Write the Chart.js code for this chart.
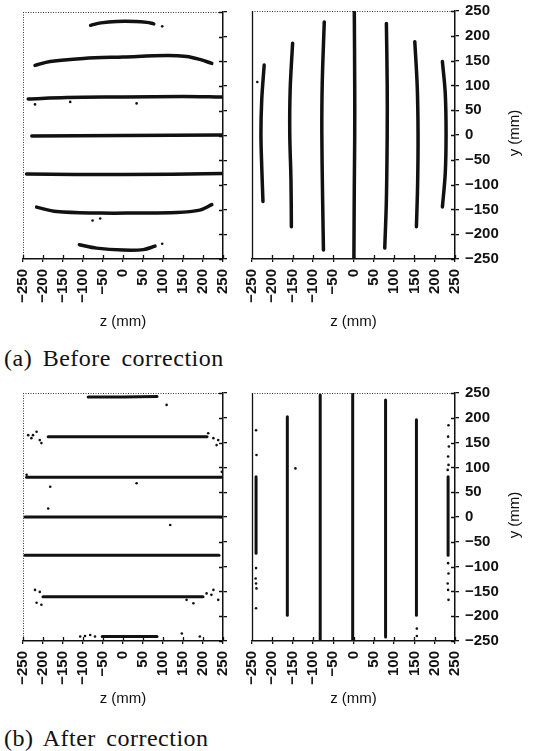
<!DOCTYPE html>
<html>
<head>
<meta charset="utf-8">
<script src="https://cdn.jsdelivr.net/npm/chart.js@4.4.1/dist/chart.umd.min.js"></script>
<style>
  html, body { margin: 0; padding: 0; background: #fff; }
  body { width: 533px; height: 751px; position: relative; overflow: hidden; }
  canvas { position: absolute; }
  .cap { position: absolute; left: 4px; font-family: "Liberation Serif", "Times New Roman", serif; font-size: 24px; line-height: 24px; color: #111; letter-spacing: 0.5px; word-spacing: 4px; white-space: nowrap; }
  .ylab { position: absolute; font-family: "Liberation Sans", Arial, sans-serif; font-size: 15px; color: #111; transform: translate(-50%, -50%) rotate(-90deg); white-space: nowrap; }
</style>
</head>
<body>
<canvas id="tl" width="245" height="331" style="left:0px;top:0px"></canvas>
<canvas id="tr" width="293" height="331" style="left:240px;top:0px"></canvas>
<canvas id="bl" width="245" height="328" style="left:0px;top:380px"></canvas>
<canvas id="br" width="293" height="328" style="left:240px;top:380px"></canvas>
<div class="ylab" style="left:513px;top:133px">y (mm)</div>
<div class="ylab" style="left:513px;top:515px">y (mm)</div>
<div class="cap" style="top:346px">(a) Before correction</div>
<div class="cap" style="top:726px">(b) After correction</div>
<script>
// ---- axis ticks (mm) ----
const zTicks = [-250, -200, -150, -100, -50, 0, 50, 100, 150, 200, 250];
const yTicks = [250, 200, 150, 100, 50, 0, -50, -100, -150, -200, -250];

// ---- (a) before correction: horizontal wires, [z, y] points ----
const beforeRows = [
  [[-81, 223], [-55, 228], [-16, 231], [30, 231], [60, 229], [77, 226]],
  [[-220, 142], [-182, 150], [-99, 156], [1, 159], [109, 162], [159, 160], [192, 154], [222, 146]],
  [[-237, 74], [-141, 77], [1, 78], [151, 79], [247, 78]],
  [[-228, -1], [1, 0], [247, 1]],
  [[-241, -78], [1, -79], [247, -77]],
  [[-216, -145], [-166, -154], [-57, -157], [26, -157], [134, -156], [192, -151], [222, -140]],
  [[-109, -221], [-66, -228], [1, -232], [51, -231], [80, -224]]
];
const beforeRowStrays = [[98, 221], [98, -219], [-132, 68], [-220, 63], [34, 65], [-76, -172], [-57, -168]];

// ---- (a) before correction: vertical wires ----
const beforeCols = [
  [[-220, 141], [-226, 71], [-228, 3], [-226, -64], [-223, -134]],
  [[-150, 185], [-156, 91], [-157, 3], [-154, -91], [-153, -185]],
  [[-72, 228], [-77, 104], [-78, 3], [-76, -131], [-74, -232]],
  [[2, 250], [3, 100], [3, 0], [2, -100], [1, -250]],
  [[81, 225], [83, 104], [83, 3], [81, -131], [77, -228]],
  [[151, 188], [157, 97], [159, 3], [158, -97], [155, -185]],
  [[219, 148], [226, 84], [228, 3], [226, -77], [219, -145]]
];
const beforeColStrays = [[-237, 107]];

// ---- (b) after correction: horizontal wires ----
const afterRows = [
  [[-87, 242], [0, 242], [85, 243]],
  [[-187, 162], [0, 162], [210, 162]],
  [[-241, 80], [0, 80], [247, 80]],
  [[-245, 0], [0, 0], [250, 0]],
  [[-245, -77], [0, -77], [240, -77]],
  [[-200, -161], [0, -161], [200, -161]],
  [[-52, -241], [0, -241], [85, -241]]
];
const afterRowStrays = [
  [109, 226],
  [-237, 165], [-229, 159], [-216, 172], [-208, 155], [-204, 149], [-225, 165],
  [213, 169], [226, 159], [234, 145], [238, 155],
  [-182, 61], [34, 68], [-241, 85], [247, 91],
  [-187, 17], [118, -16],
  [-220, -147], [-208, -151], [-204, -177], [-216, -173],
  [159, -167], [176, -174], [209, -154], [226, -147], [238, -167], [221, -157],
  [-107, -241], [-95, -240], [-82, -238], [-70, -241], [147, -235], [192, -241]
];

// ---- (b) after correction: vertical wires ----
const afterCols = [
  [[-240, 81], [-240, 0], [-240, -73]],
  [[-163, 202], [-163, 0], [-163, -198]],
  [[-82, 246], [-82, 0], [-82, -250]],
  [[-2, 250], [-2, 0], [-2, -250]],
  [[79, 236], [79, 0], [79, -242]],
  [[155, 196], [155, 0], [155, -198]],
  [[233, 81], [233, 0], [233, -77]]
];
const afterColStrays = [
  [-240, 175], [-239, 125], [-240, -103], [-241, -124], [-240, -134], [-239, -144], [-240, -184],
  [234, 185], [233, 162], [235, 142], [233, 122], [234, 105], [232, 95],
  [233, -93], [234, -114], [232, -134], [233, -147], [234, -167],
  [-143, 98], [156, -225], [156, -240]
];

// ---- rendering ----
const INK = '#111';
const TICK_FONT = { family: '"Liberation Sans", Arial, sans-serif', size: 15, weight: 'bold' };
const TITLE_FONT = { family: '"Liberation Sans", Arial, sans-serif', size: 15 };
const fmt = v => String(v).replace('-', '\u2212');

const framePlugin = {
  id: 'frame',
  afterDraw(chart, args, opts) {
    const { ctx, chartArea: a, scales } = chart;
    ctx.save();
    ctx.strokeStyle = '#333';
    ctx.lineWidth = 1;
    ctx.setLineDash([1, 1.5]);
    ctx.beginPath();
    ctx.moveTo(a.left, a.top + 0.5); ctx.lineTo(a.right, a.top + 0.5);
    if (opts.leftDotted) { ctx.moveTo(a.left + 0.5, a.top); ctx.lineTo(a.left + 0.5, a.bottom); }
    ctx.stroke();
    ctx.setLineDash([]);
    ctx.strokeStyle = INK;
    ctx.lineWidth = 1.3;
    ctx.beginPath();
    if (!opts.leftDotted) { ctx.moveTo(a.left + 0.5, a.top); ctx.lineTo(a.left + 0.5, a.bottom); }
    scales.x.ticks.forEach(t => {
      const px = Math.round(scales.x.getPixelForValue(t.value)) + 0.5;
      ctx.moveTo(px, a.bottom); ctx.lineTo(px, a.bottom - 4);
    });
    scales.y.ticks.forEach(t => {
      const py = Math.round(scales.y.getPixelForValue(t.value)) + 0.5;
      ctx.moveTo(a.right, py); ctx.lineTo(a.right - 4, py);
    });
    ctx.stroke();
    ctx.restore();
  }
};

function wireSets(wires, width) {
  return wires.map(w => ({
    data: w.map(p => ({ x: p[0], y: p[1] })),
    showLine: true, borderColor: INK, borderWidth: width, tension: 0.35,
    pointRadius: 0, fill: false, borderCapStyle: 'round'
  }));
}
function straySet(pts) {
  return {
    data: pts.map(p => ({ x: p[0], y: p[1] })),
    showLine: false, pointRadius: 1.3, pointBackgroundColor: INK, pointBorderWidth: 0
  };
}

function makeChart(id, wires, strays, opt) {
  new Chart(document.getElementById(id), {
    type: 'scatter',
    data: { datasets: [...wireSets(wires, opt.lw), straySet(strays)] },
    options: {
      responsive: false, animation: false, devicePixelRatio: 1,
      layout: { padding: { left: opt.padLeft, top: opt.padTop, right: 0, bottom: 0 } },
      plugins: { legend: { display: false }, tooltip: { enabled: false }, frame: { leftDotted: opt.leftDotted } },
      scales: {
        x: {
          type: 'linear', min: -250, max: 250,
          afterBuildTicks: s => { s.ticks = zTicks.map(v => ({ value: v })); },
          afterFit: s => { s.height = opt.xHeight; s.paddingLeft = 0; s.paddingRight = 0; },
          ticks: { autoSkip: false, minRotation: 90, maxRotation: 90, padding: 7, color: INK, font: TICK_FONT, callback: fmt },
          grid: { drawOnChartArea: false, drawTicks: true, tickLength: 3, color: INK, lineWidth: 1.3 },
          border: { display: true, color: INK, width: 1.5 },
          title: { display: true, text: 'z (mm)', color: INK, font: TITLE_FONT, padding: 0 }
        },
        y: {
          type: 'linear', position: 'right', min: -250, max: 250,
          afterBuildTicks: s => { s.ticks = yTicks.map(v => ({ value: v })); },
          afterFit: s => { s.width = opt.yWidth; s.paddingTop = 0; s.paddingBottom = 0; },
          ticks: { display: opt.yLabels, autoSkip: false, padding: 6, color: INK, font: TICK_FONT, callback: fmt },
          grid: { drawOnChartArea: false, drawTicks: true, tickLength: 4, color: INK, lineWidth: 1.3 },
          border: { display: true, color: INK, width: 1.5 }
        }
      }
    },
    plugins: [framePlugin]
  });
}

makeChart('tl', beforeRows, beforeRowStrays, { lw: 3.5, padLeft: 23, padTop: 12, yWidth: 22, xHeight: 72, yLabels: false, leftDotted: true });
makeChart('tr', beforeCols, beforeColStrays, { lw: 3.5, padLeft: 12, padTop: 11, yWidth: 78, xHeight: 72, yLabels: true, leftDotted: false });
makeChart('bl', afterRows, afterRowStrays, { lw: 3, padLeft: 23, padTop: 13, yWidth: 22, xHeight: 67, yLabels: false, leftDotted: true });
makeChart('br', afterCols, afterColStrays, { lw: 3, padLeft: 12, padTop: 13, yWidth: 78, xHeight: 67, yLabels: true, leftDotted: false });
</script>
</body>
</html>
